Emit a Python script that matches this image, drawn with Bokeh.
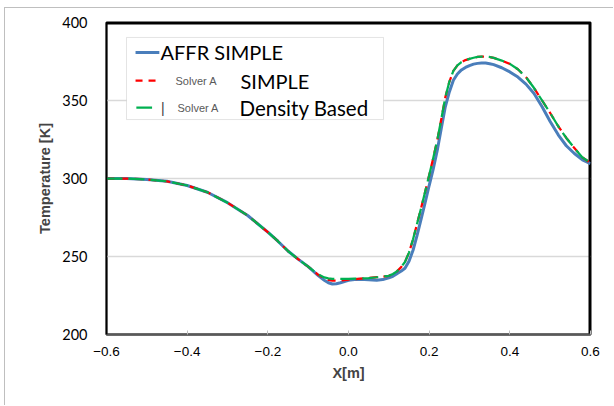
from bokeh.plotting import figure
from bokeh.models import FixedTicker, CustomJSTickFormatter, BoxAnnotation, Arrow, Label
from bokeh.embed import file_html
from bokeh.resources import INLINE

# ---- data ----
x_m = [-0.6, -0.55, -0.5, -0.45, -0.4, -0.35, -0.3, -0.25, -0.2, -0.175, -0.15, -0.125, -0.1, -0.075,
       -0.06, -0.05, -0.04, -0.03, -0.02, -0.01, 0.0, 0.015, 0.03, 0.05, 0.07, 0.085, 0.1,
       0.11, 0.12, 0.13, 0.14, 0.15, 0.16, 0.17, 0.18, 0.19, 0.2, 0.21, 0.22, 0.23, 0.24, 0.25,
       0.26, 0.27, 0.28, 0.29, 0.3, 0.31, 0.32, 0.33, 0.34, 0.35, 0.36, 0.38, 0.4, 0.42, 0.44,
       0.46, 0.48, 0.5, 0.52, 0.54, 0.56, 0.58, 0.6]

t_affr_simple = [300, 300, 299.4, 298.2, 295.5, 291.2, 284.5, 276.3, 265.6, 259.8, 253.5, 248.3, 243.5, 237.8,
                 234.8, 233.2, 232.4, 232.5, 233.2, 234.0, 234.7, 235.2, 235.4, 235.1, 234.8, 235.2, 236.3,
                 237.3, 239.0, 240.5, 242.5, 247.0, 254.0, 263.5, 274.0, 284.5, 295.5, 306.0, 318.0, 332.0, 346.0, 355.5,
                 363.0, 367.0, 369.6, 371.2, 372.4, 373.3, 373.8, 374.0, 374.0, 373.6, 373.0, 371.0, 368.3, 365.0, 360.5,
                 354.5, 346.0, 336.5, 328.0, 321.0, 316.0, 312.0, 309.5]

t_solver_simple = [300, 300, 299.4, 298.2, 295.5, 291.2, 284.5, 276.3, 265.6, 259.8, 253.5, 248.3, 243.5, 238.3,
                   236.0, 235.0, 234.6, 234.5, 234.6, 234.9, 235.2, 235.5, 235.8, 236.2, 236.8, 237.1, 237.6,
                   238.8, 240.5, 243.0, 246.5, 252.5, 261.0, 271.0, 281.0, 291.5, 302.0, 313.0, 324.5, 338.0, 352.0, 362.0,
                   369.0, 372.5, 374.6, 375.9, 376.7, 377.4, 377.9, 378.2, 378.2, 377.9, 377.3, 375.6, 373.5, 370.0, 365.0,
                   358.0, 350.0, 342.0, 333.5, 326.0, 319.5, 313.5, 310.0]

t_solver_density = [300, 300, 299.4, 298.2, 295.5, 291.2, 284.5, 276.3, 265.6, 259.8, 253.5, 248.3, 243.5, 238.5,
                    236.6, 236.0, 235.7, 235.6, 235.6, 235.6, 235.7, 235.8, 235.9, 236.2, 236.7, 237.1, 237.6,
                    238.8, 240.5, 243.0, 246.5, 252.5, 261.0, 271.0, 281.0, 291.5, 302.0, 313.0, 324.5, 338.0, 352.0, 362.0,
                    369.0, 372.5, 374.6, 375.9, 376.7, 377.4, 377.9, 378.2, 378.2, 377.9, 377.3, 375.6, 373.5, 370.0, 365.0,
                    358.0, 350.0, 342.0, 333.5, 326.0, 319.5, 313.5, 310.0]

x_ticks = [-0.6, -0.4, -0.2, 0.0, 0.2, 0.4, 0.6]
y_ticks = [200, 250, 300, 350, 400]

BLUE = "#4A7EBB"
RED = "#FF0000"
GREEN = "#00B050"

p = figure(width=609, height=398, x_range=(x_ticks[0], x_ticks[-1]), y_range=(y_ticks[0], y_ticks[-1]),
           output_backend="svg", toolbar_location=None,
           min_border_left=101, min_border_right=24, min_border_top=14, min_border_bottom=72)
p.margin = (7, 0, 0, 4)
p.styles = {"border-left": "1px solid #BFBFBF", "border-top": "1px solid #BFBFBF"}

p.background_fill_color = "white"
p.border_fill_color = "white"
p.outline_line_color = "black"
p.outline_line_width = 2
p.outline_line_alpha = 1.0

p.xgrid.visible = False
p.ygrid.grid_line_color = "#D9D9D9"
p.ygrid.grid_line_width = 1.5

# axes
p.xaxis.ticker = FixedTicker(ticks=x_ticks)
p.yaxis.ticker = FixedTicker(ticks=y_ticks)
p.xaxis.formatter = CustomJSTickFormatter(code="""
    var v = Math.abs(tick) < 1e-9 ? 0 : tick;
    return (v < 0 ? '\u2212' : '') + Math.abs(v).toFixed(1);
""")
p.xaxis.axis_line_color = "#595959"
p.xaxis.axis_line_width = 2
p.xaxis.major_tick_in = 4
p.xaxis.major_tick_out = 0
p.xaxis.major_tick_line_color = "#BFBFBF"
p.xaxis.minor_tick_line_color = None
p.xaxis.major_label_standoff = 12
p.xaxis.major_label_text_font = "Liberation Sans"
p.xaxis.major_label_text_font_size = "13.5px"
p.xaxis.major_label_text_color = "#000000"
p.xaxis.axis_label = "X[m]"
p.xaxis.axis_label_text_font = "Liberation Sans"
p.xaxis.axis_label_text_font_style = "bold"
p.xaxis.axis_label_text_font_size = "14.5px"
p.xaxis.axis_label_standoff = 6

p.yaxis.axis_line_color = "black"
p.yaxis.axis_line_width = 1.5
p.yaxis.major_tick_in = 0
p.yaxis.major_tick_out = 0
p.yaxis.minor_tick_line_color = None
p.yaxis.major_label_standoff = 19
p.yaxis.major_label_text_font = "Lato"
p.yaxis.major_label_text_font_size = "14.5px"
p.yaxis.major_label_text_color = "#000000"
p.yaxis.axis_label = "Temperature [K]"
p.yaxis.axis_label_text_font = "Liberation Sans"
p.yaxis.axis_label_text_font_style = "bold"
p.yaxis.axis_label_text_font_size = "14.5px"
p.yaxis.axis_label_standoff = 6

# frame border along the top and right edges of the plot area
p.line([x_ticks[0], x_ticks[-1], x_ticks[-1]], [y_ticks[-1], y_ticks[-1], y_ticks[0]],
       line_color="black", line_width=4)

# data lines
p.line(x_m, t_affr_simple, line_color=BLUE, line_width=3)
p.line(x_m, t_solver_simple, line_color=RED, line_width=2.25, line_dash="8 6")
p.line(x_m, t_solver_density, line_color=GREEN, line_width=2.25, line_dash="16 6")

# ---- hand-made legend (decoration) ----
p.add_layout(BoxAnnotation(left=-0.5504, right=0.0868, top=390.4, bottom=337.8,
                           fill_color="white", fill_alpha=1.0,
                           line_color="#A6A6A6", line_width=1))
p.add_layout(Arrow(x_start=-0.528, y_start=380.8, x_end=-0.469, y_end=380.8, start=None, end=None,
                   line_color=BLUE, line_width=3))
p.add_layout(Arrow(x_start=-0.528, y_start=362.8, x_end=-0.478, y_end=362.8, start=None, end=None,
                   line_color=RED, line_width=2.25, line_dash="7 6"))
p.add_layout(Arrow(x_start=-0.526, y_start=345.5, x_end=-0.487, y_end=345.5, start=None, end=None,
                   line_color=GREEN, line_width=2.25))

def lab(x, y, text, size, color="black", font="Lato"):
    p.add_layout(Label(x=x, y=y, text=text, text_font=font, text_font_size=size,
                       text_color=color, text_baseline="middle", text_align="left"))

lab(-0.4661, 380.8, "AFFR SIMPLE", "20px")
lab(-0.4289, 362.8, "Solver A", "11px", "#595959", "Liberation Sans")
lab(-0.2678, 362.8, "SIMPLE", "20px")
lab(-0.4650, 345.5, "|", "14px", "#404040", "Liberation Sans")
lab(-0.4240, 345.5, "Solver A", "11px", "#595959", "Liberation Sans")
lab(-0.2702, 345.5, "Density Based", "20.5px")

open("out.html", "w").write(file_html(p, INLINE))
